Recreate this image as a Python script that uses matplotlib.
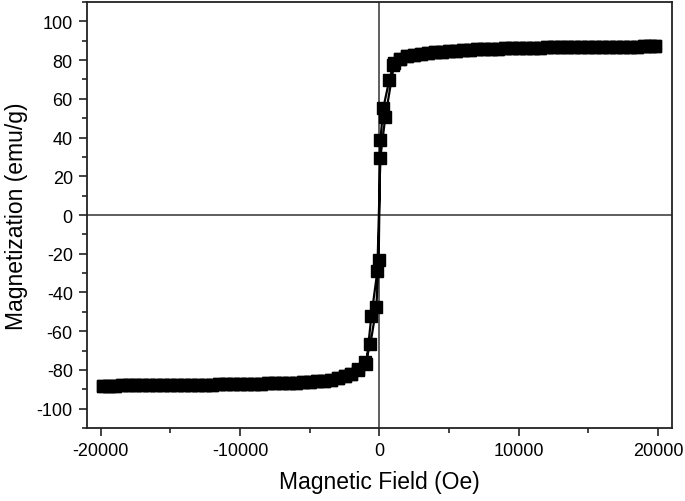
import numpy as np
import matplotlib
matplotlib.use("Agg")
import matplotlib.pyplot as plt
from matplotlib.ticker import MultipleLocator

plt.rcParams['font.family'] = ['Liberation Sans', 'DejaVu Sans']
plt.rcParams['axes.unicode_minus'] = False

### data
# positive saturation part, field in Oe (20000 -> 2000)
H_pos_sat = [19800, 19400, 19000, 18500, 18000, 17500, 17000, 16500, 16000,
             15500, 15000, 14500, 14000, 13500, 13000, 12500, 12000, 11500,
             11000, 10500, 10000, 9500, 9000, 8500, 8000, 7500, 7000, 6500,
             6000, 5500, 5000, 4500, 4000, 3500, 3000, 2500, 2000]
M_pos_sat = [87.1, 87.1, 87.1, 87.0, 87.0, 87.0, 87.0, 86.9, 86.9,
             86.9, 86.9, 86.8, 86.8, 86.8, 86.7, 86.7, 86.6, 86.5,
             86.4, 86.3, 86.2, 86.1, 86.0, 85.9, 85.8, 85.6, 85.5, 85.3,
             85.1, 84.9, 84.7, 84.4, 84.1, 83.7, 83.3, 82.8, 82.1]

# negative saturation part (-2000 -> -20000)
H_neg_sat = [-2000, -2500, -3000, -3500, -4000, -4500, -5000, -5500, -6000,
             -6500, -7000, -7500, -8000, -8500, -9000, -9500, -10000, -10500,
             -11000, -11500, -12000, -12500, -13000, -13500, -14000, -14500,
             -15000, -15500, -16000, -16500, -17000, -17500, -18000, -18500,
             -19000, -19400, -19800]
M_neg_sat = [-82.0, -83.3, -84.3, -85.0, -85.5, -85.9, -86.2, -86.4, -86.6,
             -86.7, -86.8, -86.9, -87.0, -87.1, -87.2, -87.3, -87.3, -87.4,
             -87.5, -87.5, -87.6, -87.6, -87.7, -87.7, -87.8, -87.8,
             -87.8, -87.9, -87.9, -87.9, -88.0, -88.0, -88.0, -88.0,
             -88.1, -88.1, -88.1]

# switching region, descending branch (+ -> -)
H_down_mid = [1500, 1000, 717, 287, 72, -50, -215, -645, -1000, -1500]
M_down_mid = [80.6, 77.5, 69.8, 55.4, 38.9, -23.3, -47.7, -66.8, -76.0, -79.5]

# switching region, ascending branch (- -> +)
H_up_mid = [-1500, -932, -573, -143, 72, 430, 1075, 1500]
M_up_mid = [-80.0, -77.0, -52.2, -29.0, 29.6, 50.8, 78.6, 80.6]


H_down = H_pos_sat + H_down_mid + H_neg_sat
M_down = M_pos_sat + M_down_mid + M_neg_sat
H_up = H_neg_sat[::-1] + H_up_mid + H_pos_sat[::-1]
M_up = M_neg_sat[::-1] + M_up_mid + M_pos_sat[::-1]

H = H_down + H_up
M = M_down + M_up

fig = plt.figure(figsize=(6.85, 5.02), dpi=100)
ax = fig.add_axes([0.1266, 0.1454, 0.8544, 0.8486])

ax.axhline(0, color='#333333', lw=1.1, zorder=1)
ax.axvline(0, color='#333333', lw=1.1, zorder=1)

ax.plot(H, M, color='black', lw=1.6, marker='s', markersize=8,
        markerfacecolor='black', markeredgecolor='black', zorder=3)

ax.set_xlim(-21000, 21000)
ax.set_ylim(-110, 110)

ax.xaxis.set_major_locator(MultipleLocator(10000))
ax.xaxis.set_minor_locator(MultipleLocator(5000))
ax.yaxis.set_major_locator(MultipleLocator(20))
ax.yaxis.set_minor_locator(MultipleLocator(10))

ax.tick_params(which='major', direction='out', length=6, width=1.2,
               labelsize=13, color='#222222', pad=4)
ax.tick_params(which='minor', direction='out', length=3.5, width=1.2,
               color='#222222')

for s in ax.spines.values():
    s.set_linewidth(1.3)
    s.set_color('#222222')

ax.set_xlabel('Magnetic Field (Oe)', fontsize=16.5, labelpad=8)
ax.set_ylabel('Magnetization (emu/g)', fontsize=16.5, labelpad=6)

fig.savefig('out.png', dpi=100)
